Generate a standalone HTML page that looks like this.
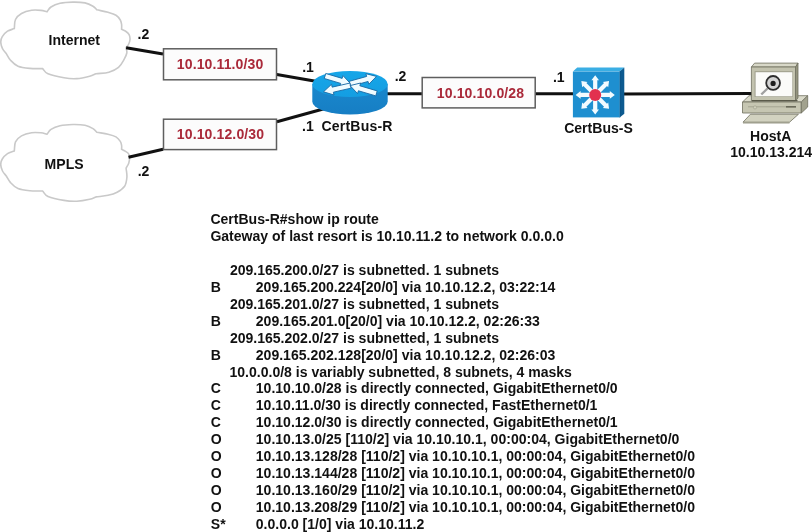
<!DOCTYPE html>
<html><head><meta charset="utf-8"><style>
html,body{margin:0;padding:0;background:#fff;width:812px;height:532px;overflow:hidden}
svg{display:block;will-change:transform}
text{font-family:"Liberation Sans",sans-serif;}
</style></head><body>
<svg width="812" height="532" viewBox="0 0 812 532">
<defs>
<linearGradient id="rtop" x1="0" y1="0" x2="0" y2="1"><stop offset="0" stop-color="#16a6e8"/><stop offset="1" stop-color="#149ee2"/></linearGradient>
<linearGradient id="rside" x1="0" y1="0" x2="0" y2="1"><stop offset="0" stop-color="#1a88cd"/><stop offset="1" stop-color="#167ec4"/></linearGradient>
</defs>
<!-- clouds -->
<path d="M14.3,28.6 C14.70,25.57 14.30,22.02 15.50,19.50 C16.70,16.98 18.82,15.03 21.50,13.50 C24.18,11.97 28.35,10.82 31.60,10.30 C34.85,9.78 38.43,10.15 41.00,10.40 C43.57,10.65 45.00,11.33 47.00,11.80 C48.33,10.20 48.83,8.42 51.00,7.00 C53.17,5.58 56.37,4.12 60.00,3.30 C63.63,2.48 68.63,2.17 72.80,2.10 C76.97,2.03 81.63,2.22 85.00,2.90 C88.37,3.58 91.03,5.05 93.00,6.20 C94.97,7.35 95.53,8.60 96.80,9.80 C100.53,10.63 104.80,11.40 108.00,12.30 C111.20,13.20 113.95,13.92 116.00,15.20 C118.05,16.48 119.37,18.45 120.30,20.00 C121.23,21.55 121.38,22.95 121.60,24.50 C121.82,26.05 121.60,27.70 121.60,29.30 C123.07,30.03 124.75,30.62 126.00,31.50 C127.25,32.38 128.43,33.27 129.10,34.60 C129.77,35.93 130.10,37.85 130.00,39.50 C129.90,41.15 129.15,43.18 128.50,44.50 C127.85,45.82 126.90,46.43 126.10,47.40 C126.33,49.27 127.13,51.00 126.80,53.00 C126.47,55.00 125.48,57.00 124.10,59.40 C122.72,61.80 121.03,65.27 118.50,67.40 C115.97,69.53 112.65,71.13 108.90,72.20 C105.15,73.27 100.30,73.27 96.00,73.80 C93.90,74.60 92.90,75.40 89.70,76.20 C86.50,77.00 81.08,78.33 76.80,78.60 C72.52,78.87 68.80,78.60 64.00,77.80 C59.20,77.00 51.57,75.33 48.00,73.80 C44.43,72.27 44.40,70.33 42.60,68.60 C38.40,68.53 34.10,68.80 30.00,68.40 C25.90,68.00 21.25,67.57 18.00,66.20 C14.75,64.83 12.45,62.30 10.50,60.20 C8.55,58.10 7.70,55.80 6.30,53.60 C5.03,51.93 3.42,50.52 2.50,48.60 C1.58,46.68 0.78,44.10 0.75,42.10 C0.72,40.10 1.17,38.42 2.30,36.60 C3.42,34.78 5.50,32.53 7.50,31.20 C9.50,29.87 12.03,29.47 14.30,28.60 Z" fill="#fff" stroke="#c9c9c9" stroke-width="1.6"/>
<g transform="translate(0,122.4)"><path d="M14.3,28.6 C14.70,25.57 14.30,22.02 15.50,19.50 C16.70,16.98 18.82,15.03 21.50,13.50 C24.18,11.97 28.35,10.82 31.60,10.30 C34.85,9.78 38.43,10.15 41.00,10.40 C43.57,10.65 45.00,11.33 47.00,11.80 C48.33,10.20 48.83,8.42 51.00,7.00 C53.17,5.58 56.37,4.12 60.00,3.30 C63.63,2.48 68.63,2.17 72.80,2.10 C76.97,2.03 81.63,2.22 85.00,2.90 C88.37,3.58 91.03,5.05 93.00,6.20 C94.97,7.35 95.53,8.60 96.80,9.80 C100.53,10.47 104.80,11.02 108.00,11.80 C111.20,12.58 113.95,13.30 116.00,14.50 C118.05,15.70 119.37,17.58 120.30,19.00 C121.23,20.42 121.38,21.68 121.60,23.00 C121.82,24.32 121.60,25.60 121.60,26.90 C122.90,27.60 124.33,28.23 125.50,29.00 C126.67,29.77 127.92,30.50 128.60,31.50 C129.28,32.50 129.57,33.50 129.60,35.00 C129.63,36.50 129.38,38.70 128.80,40.50 C128.22,42.30 127.00,44.03 126.10,45.80 C126.37,48.80 127.15,51.80 126.90,54.80 C126.65,57.80 126.23,61.30 124.60,63.80 C122.97,66.30 119.87,68.28 117.10,69.80 C114.33,71.32 111.52,72.12 108.00,72.90 C104.48,73.68 100.00,73.97 96.00,74.50 C93.90,75.27 92.90,76.08 89.70,76.80 C86.50,77.52 81.08,78.60 76.80,78.80 C72.52,79.00 68.80,78.80 64.00,78.00 C59.20,77.20 51.57,75.57 48.00,74.00 C44.43,72.43 44.40,70.40 42.60,68.60 C38.40,68.53 34.10,68.80 30.00,68.40 C25.90,68.00 21.25,67.57 18.00,66.20 C14.75,64.83 12.45,62.30 10.50,60.20 C8.55,58.10 7.70,55.80 6.30,53.60 C5.03,51.93 3.42,50.52 2.50,48.60 C1.58,46.68 0.78,44.10 0.75,42.10 C0.72,40.10 1.17,38.42 2.30,36.60 C3.42,34.78 5.50,32.53 7.50,31.20 C9.50,29.87 12.03,29.47 14.30,28.60 Z" fill="#fff" stroke="#c9c9c9" stroke-width="1.6"/></g>
<!-- links -->
<g stroke="#111" stroke-width="3" stroke-linecap="butt" fill="none">
<line x1="126.1" y1="47.8" x2="163" y2="54"/>
<line x1="276.8" y1="74.5" x2="320" y2="82"/>
<line x1="128.5" y1="157.3" x2="163.1" y2="149.3"/>
<line x1="276.9" y1="121.7" x2="325" y2="108.5"/>
<line x1="380" y1="93.7" x2="422" y2="93.7"/>
<line x1="535.5" y1="93.7" x2="573" y2="93.7"/>
<line x1="620" y1="93.9" x2="752" y2="93.6"/>
</g>
<!-- boxes -->
<g fill="#fcfcfc" stroke="#5e5e5e" stroke-width="1.5">
<rect x="163.5" y="48.8" width="113" height="31"/>
<rect x="163.5" y="119.2" width="113" height="30.4"/>
<rect x="422.2" y="77.5" width="113" height="30.4"/>
</g>
<!-- router -->
<path d="M312.3,84 L312.3,101.6 A37.7,13 0 0 0 387.7,101.6 L387.7,84 Z" fill="url(#rside)"/>
<ellipse cx="350" cy="84" rx="37.7" ry="13" fill="url(#rtop)"/>
<g fill="#f0fbff" stroke="#1668a4" stroke-width="0.9" stroke-linejoin="round"><polygon points="324.26,78.49 340.65,83.38 339.82,86.16 350.50,83.60 342.97,75.62 342.14,78.39 325.74,73.51"/><polygon points="350.70,86.30 368.05,81.46 368.83,84.25 376.50,76.40 365.87,73.66 366.65,76.45 349.30,81.30"/><polygon points="349.92,83.07 332.18,87.14 331.53,84.31 323.50,91.80 333.99,95.03 333.34,92.21 351.08,88.13"/><polygon points="377.23,90.91 359.85,85.79 360.67,83.01 350.00,85.60 357.56,93.56 358.38,90.78 375.77,95.89"/></g>
<!-- switch -->
<polygon points="572.9,71.6 577.2,67.6 624.3,67.6 619.6,71.6" fill="#3aaee4"/>
<polygon points="619.6,71.6 624.3,67.6 624.3,113.8 619.6,117.4" fill="#0c5a90"/><line x1="619.8" y1="71.6" x2="619.8" y2="117.4" stroke="#0a4a78" stroke-width="0.8"/>
<rect x="572.9" y="71.6" width="46.7" height="45.8" fill="#1e8fd0"/>
<g fill="#f2fbff"><polygon points="598.20,97.00 609.80,97.00 609.80,98.70 614.80,94.90 609.80,91.10 609.80,92.80 598.20,92.80"/><polygon points="595.84,98.51 604.04,106.71 602.84,107.91 609.06,108.76 608.21,102.54 607.01,103.74 598.81,95.54"/><polygon points="593.10,97.90 593.10,109.50 591.40,109.50 595.20,114.50 599.00,109.50 597.30,109.50 597.30,97.90"/><polygon points="591.59,95.54 583.39,103.74 582.19,102.54 581.34,108.76 587.56,107.91 586.36,106.71 594.56,98.51"/><polygon points="592.20,92.80 580.60,92.80 580.60,91.10 575.60,94.90 580.60,98.70 580.60,97.00 592.20,97.00"/><polygon points="594.56,91.29 586.36,83.09 587.56,81.89 581.34,81.04 582.19,87.26 583.39,86.06 591.59,94.26"/><polygon points="597.30,91.90 597.30,80.30 599.00,80.30 595.20,75.30 591.40,80.30 593.10,80.30 593.10,91.90"/><polygon points="598.81,94.26 607.01,86.06 608.21,87.26 609.06,81.04 602.84,81.89 604.04,83.09 595.84,91.29"/></g>
<circle cx="595.2" cy="94.9" r="6" fill="#e2314f"/>
<!-- host -->
<g stroke="#6e6e5e" stroke-width="0.8" stroke-linejoin="round">
<polygon points="743,122.2 750.5,114.2 798.5,114.2 789.5,122.2" fill="#d2d2c0"/>
<polygon points="743,122.2 789.5,122.2 789.5,123.4 743,123.4" fill="#9c9c8a" stroke="none"/>
<polygon points="742.5,102 749,95.7 807.7,95.7 801.3,102" fill="#dadaca"/>
<rect x="742.5" y="102" width="58.8" height="11" fill="#c6c6b2"/>
<polygon points="801.3,102 807.7,95.7 807.7,107 801.3,113" fill="#a2a28e"/>
<line x1="748" y1="106.8" x2="796" y2="106.8" stroke="#a4a492" stroke-width="1"/>
<rect x="786" y="106" width="10" height="1.6" fill="#6a6a5a" stroke="none"/>
<polygon points="751.4,67 754.6,63.1 798,63.1 795.5,67" fill="#d8d8c8"/>
<polygon points="795.5,67 798,63.1 798,98 795.5,100.8" fill="#94947f"/>
<rect x="751.4" y="67" width="44.1" height="33.8" fill="#c2c2ae"/>
<rect x="754.6" y="71.2" width="38.2" height="25.8" fill="#9e9e8c" stroke="none"/>
<rect x="755.6" y="72.2" width="36.7" height="24.1" fill="#fbfbf9" stroke="none"/>
<line x1="752" y1="100.6" x2="797.5" y2="100.6" stroke="#5a5a4a" stroke-width="1.3"/>
<circle cx="755" cy="107.4" r="1.6" fill="#d0d0bc" stroke="#9a9a88" stroke-width="0.6"/>
</g>
<line x1="767.5" y1="88.5" x2="761.3" y2="94.5" stroke="#a0a0a0" stroke-width="2.4"/>
<circle cx="773.1" cy="82.9" r="6.9" fill="#d4d4d4" stroke="#2e2e2e" stroke-width="1.8"/>
<circle cx="773.1" cy="83.4" r="2.6" fill="#1e1e1e"/>
<!-- labels -->
<g font-family="Liberation Sans" font-weight="bold" font-size="14.04">
<text x="48.5" y="45.2" fill="#111" >Internet</text>
<text x="44.6" y="168.6" fill="#111" >MPLS</text>
<text x="137.6" y="38.8" fill="#111" >.2</text>
<text x="302.2" y="72" fill="#111" >.1</text>
<text x="394.7" y="80.7" fill="#111" >.2</text>
<text x="552.9" y="82.2" fill="#111" >.1</text>
<text x="302.1" y="131" fill="#111" >.1</text>
<text x="321.5" y="131" fill="#111" letter-spacing="0.2">CertBus-R</text>
<text x="137.7" y="175.5" fill="#111" >.2</text>
<text x="564.2" y="133.3" fill="#111" >CertBus-S</text>
<text x="750" y="141" fill="#111" >HostA</text>
<text x="730.2" y="157.4" fill="#111" >10.10.13.214</text>
<text x="176.8" y="69.1" fill="#aa2a3a" letter-spacing="0.12">10.10.11.0/30</text>
<text x="176.8" y="139.4" fill="#aa2a3a" letter-spacing="0.12">10.10.12.0/30</text>
<text x="436.8" y="98.1" fill="#aa2a3a" letter-spacing="0.12">10.10.10.0/28</text>
<text x="210.4" y="224.40" fill="#111" >CertBus-R#show ip route</text><text x="210.4" y="241.30" fill="#111" >Gateway of last resort is 10.10.11.2 to network 0.0.0.0</text><text x="229.9" y="275.10" fill="#111" >209.165.200.0/27 is subnetted. 1 subnets</text><text x="210.8" y="292.00" fill="#111" >B</text><text x="255.8" y="292.00" fill="#111" >209.165.200.224[20/0] via 10.10.12.2, 03:22:14</text><text x="229.9" y="308.90" fill="#111" >209.165.201.0/27 is subnetted, 1 subnets</text><text x="210.8" y="325.80" fill="#111" >B</text><text x="255.8" y="325.80" fill="#111" >209.165.201.0[20/0] via 10.10.12.2, 02:26:33</text><text x="229.9" y="342.70" fill="#111" >209.165.202.0/27 is subnetted, 1 subnets</text><text x="210.8" y="359.60" fill="#111" >B</text><text x="255.8" y="359.60" fill="#111" >209.165.202.128[20/0] via 10.10.12.2, 02:26:03</text><text x="229.5" y="376.50" fill="#111" >10.0.0.0/8 is variably subnetted, 8 subnets, 4 masks</text><text x="210.8" y="393.40" fill="#111" >C</text><text x="255.8" y="393.40" fill="#111" >10.10.10.0/28 is directly connected, GigabitEthernet0/0</text><text x="210.8" y="410.30" fill="#111" >C</text><text x="255.8" y="410.30" fill="#111" >10.10.11.0/30 is directly connected, FastEthernet0/1</text><text x="210.8" y="427.20" fill="#111" >C</text><text x="255.8" y="427.20" fill="#111" >10.10.12.0/30 is directly connected, GigabitEthernet0/1</text><text x="210.8" y="444.10" fill="#111" >O</text><text x="255.8" y="444.10" fill="#111" >10.10.13.0/25 [110/2] via 10.10.10.1, 00:00:04, GigabitEthernet0/0</text><text x="210.8" y="461.00" fill="#111" >O</text><text x="255.8" y="461.00" fill="#111" >10.10.13.128/28 [110/2] via 10.10.10.1, 00:00:04, GigabitEthernet0/0</text><text x="210.8" y="477.90" fill="#111" >O</text><text x="255.8" y="477.90" fill="#111" >10.10.13.144/28 [110/2] via 10.10.10.1, 00:00:04, GigabitEthernet0/0</text><text x="210.8" y="494.80" fill="#111" >O</text><text x="255.8" y="494.80" fill="#111" >10.10.13.160/29 [110/2] via 10.10.10.1, 00:00:04, GigabitEthernet0/0</text><text x="210.8" y="511.70" fill="#111" >O</text><text x="255.8" y="511.70" fill="#111" >10.10.13.208/29 [110/2] via 10.10.10.1, 00:00:04, GigabitEthernet0/0</text><text x="210.8" y="528.60" fill="#111" >S*</text><text x="255.8" y="528.60" fill="#111" >0.0.0.0 [1/0] via 10.10.11.2</text>
</g>
</svg>
</body></html>
